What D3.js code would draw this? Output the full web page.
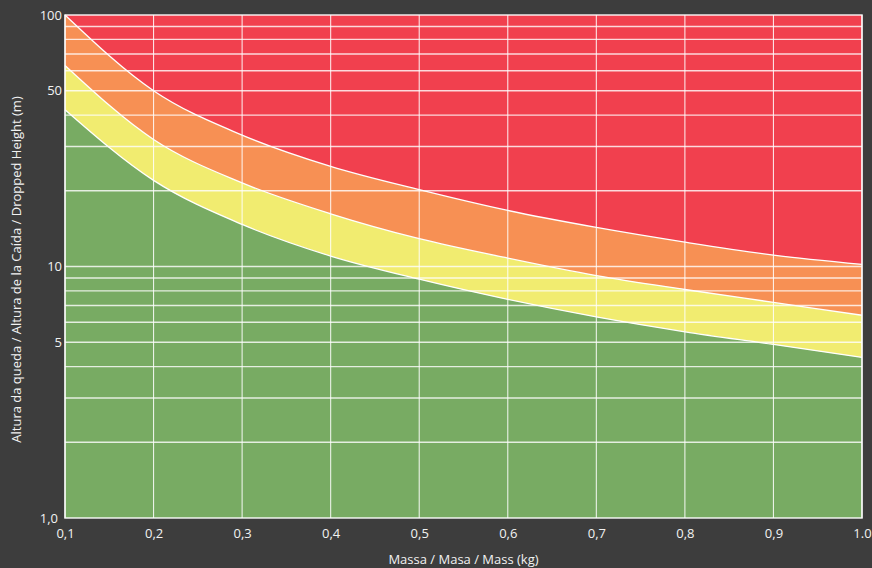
<!DOCTYPE html>
<html><head><meta charset="utf-8">
<script src="https://cdn.jsdelivr.net/npm/d3@7/dist/d3.min.js"></script>
<style>
html,body{margin:0;padding:0;background:#3d3d3d;}
svg{display:block;}
text{font-family:"Open Sans","Noto Sans",sans-serif;fill:#f2f2f2;}
</style></head>
<body>
<svg id="chart" width="872" height="568"></svg>
<script>
const masses = [0.1,0.2,0.3,0.4,0.5,0.6,0.7,0.8,0.9,1.0];
const redLimit    = [100, 50, 33.3, 25, 20.2, 16.7, 14.3, 12.5, 11.1, 10.2];
const orangeLimit = [63, 32, 21.5, 16.2, 12.9, 10.8, 9.2, 8.1, 7.2, 6.4];
const yellowLimit = [42, 22, 14.7, 11, 8.9, 7.4, 6.3, 5.5, 4.9, 4.35];
const xTicks = [0.1,0.2,0.3,0.4,0.5,0.6,0.7,0.8,0.9,1.0];
const xTickLabels = ["0,1","0,2","0,3","0,4","0,5","0,6","0,7","0,8","0,9","1.0"];
const yTicks = [1,5,10,50,100];
const yTickLabels = ["1,0","5","10","50","100"];
const yGrid = [2,3,4,5,6,7,8,9,10,20,30,40,50,60,70,80,90];
const colors = {bg:"#3d3d3d", red:"#f1404e", orange:"#f79054", yellow:"#f1ec70", green:"#78ab63"};

const svg = d3.select("#chart");
const L=65, R=862, T=15, B=518;
const x = d3.scaleLinear().domain([0.1,1.0]).range([L,R]);
const y = d3.scaleLog().domain([1,100]).range([B,T]);

// background of plot (red zone)
svg.append("rect").attr("x",L).attr("y",T).attr("width",R-L).attr("height",B-T).attr("fill",colors.red);

function areaFor(vals, color){
  const data = masses.map((m,i)=>({m, v: vals[i]}));
  const area = d3.area().x(d=>x(d.m)).y0(B).y1(d=>y(Math.min(d.v,100))).curve(d3.curveMonotoneX);
  svg.append("path").datum(data).attr("d",area).attr("fill",color);
}
areaFor(redLimit, colors.orange);
areaFor(orangeLimit, colors.yellow);
areaFor(yellowLimit, colors.green);

// grid
const g = svg.append("g");
yGrid.forEach(v=>{
  g.append("line").attr("x1",L).attr("x2",R).attr("y1",y(v)).attr("y2",y(v))
   .attr("stroke","#fff").attr("stroke-width",1.4).attr("stroke-opacity",0.8);
});
xTicks.forEach(v=>{
  g.append("line").attr("x1",x(v)).attr("x2",x(v)).attr("y1",T).attr("y2",B)
   .attr("stroke","#fff").attr("stroke-width",1.1).attr("stroke-opacity",0.85);
});

// boundary curves
[redLimit, orangeLimit, yellowLimit].forEach(vals=>{
  const data = masses.map((m,i)=>({m, v: vals[i]}));
  const line = d3.line().x(d=>x(d.m)).y(d=>y(Math.min(d.v,100))).curve(d3.curveMonotoneX);
  svg.append("path").datum(data).attr("d",line).attr("fill","none").attr("stroke","#fff").attr("stroke-width",1.3);
});

// frame
svg.append("rect").attr("x",L).attr("y",T).attr("width",R-L).attr("height",B-T)
  .attr("fill","none").attr("stroke","#fff").attr("stroke-width",1.5).attr("stroke-opacity",0.9);

// axes via d3
const xAxis = d3.axisBottom(x).tickValues(xTicks).tickSize(0).tickPadding(11)
  .tickFormat((d,i)=>xTickLabels[i]);
const xa = svg.append("g").attr("transform",`translate(0,${B})`).call(xAxis);
xa.select(".domain").remove();
xa.selectAll("text").style("font-size","13px").attr("fill","#f2f2f2").style("font-family",'"Open Sans",sans-serif');

const yAxis = d3.axisLeft(y).tickValues(yTicks).tickSize(0).tickPadding(3)
  .tickFormat((d,i)=>yTickLabels[i]);
const ya = svg.append("g").attr("transform",`translate(${L},0)`).call(yAxis);
ya.select(".domain").remove();
ya.selectAll("text").style("font-size","13px").attr("fill","#f2f2f2").style("font-family",'"Open Sans",sans-serif');
ya.selectAll(".tick").filter(d=>d===1).select("text").attr("x",-7);

// titles
svg.append("text").attr("x",(L+R)/2).attr("y",564).attr("text-anchor","middle")
  .style("font-size","13px").text("Massa / Masa / Mass (kg)");
svg.append("text").attr("transform",`translate(21,${(T+B)/2+3}) rotate(-90)`).attr("text-anchor","middle")
  .style("font-size","13px").text("Altura da queda / Altura de la Caída / Dropped Height (m)");
</script>
</body></html>
